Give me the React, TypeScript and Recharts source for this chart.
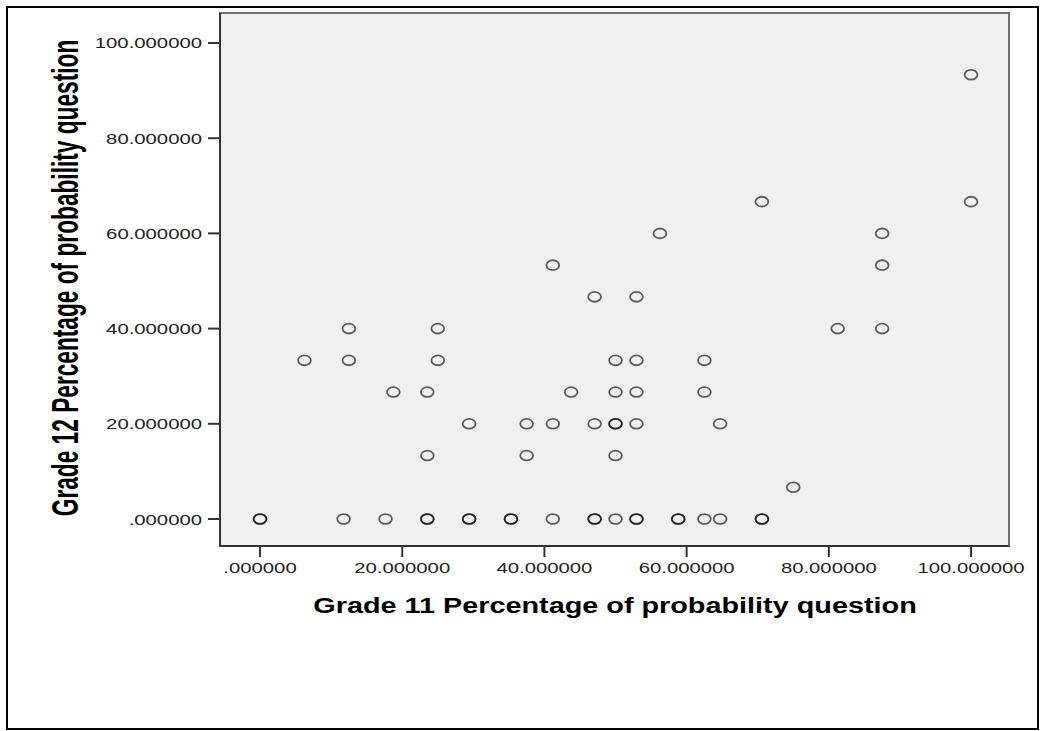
import React from 'react';
import { ScatterChart, Scatter, XAxis, YAxis, CartesianGrid, ReferenceArea } from 'recharts';

// Grade 11 vs Grade 12 percentage scores (one entry per student, repeats = overlapping dots)
const grade11 = [
  0, 0, 11.76, 17.65, 23.53, 23.53, 29.41, 29.41, 35.29, 35.29, 41.18,
  47.06, 47.06, 50, 52.94, 52.94, 58.82, 58.82, 62.5, 64.71, 70.59, 70.59,
  75,
  23.53, 37.5, 50,
  29.41, 37.5, 41.18, 47.06, 50, 50, 52.94, 64.71,
  18.75, 23.53, 43.75, 50, 52.94, 62.5,
  6.25, 12.5, 25, 50, 52.94, 62.5,
  12.5, 25, 81.25, 87.5,
  47.06, 52.94,
  41.18, 87.5,
  56.25, 87.5,
  70.59, 100,
  100,
];
const grade12 = [
  0, 0, 0, 0, 0, 0, 0, 0, 0, 0, 0,
  0, 0, 0, 0, 0, 0, 0, 0, 0, 0, 0,
  6.67,
  13.33, 13.33, 13.33,
  20, 20, 20, 20, 20, 20, 20, 20,
  26.67, 26.67, 26.67, 26.67, 26.67, 26.67,
  33.33, 33.33, 33.33, 33.33, 33.33, 33.33,
  40, 40, 40, 40,
  46.67, 46.67,
  53.33, 53.33,
  60, 60,
  66.67, 66.67,
  93.33,
];
const xTicks = [0, 20, 40, 60, 80, 100];
const yTicks = [0, 20, 40, 60, 80, 100];

const xTitle = 'Grade 11 Percentage of probability question';
const yTitle = 'Grade 12 Percentage of probability question';

const points = grade11.map((x, i) => ({ x, y: grade12[i] }));

const FONT = '"Liberation Sans", Arial, sans-serif';
const STRETCH = 1.31; // source picture is stretched horizontally

const fmt = (v: number) => (v === 0 ? '.000000' : v.toFixed(6));

const XTick = (props: any) => {
  const { x, y, payload } = props;
  return (
    <text
      transform={`translate(${x}, ${y + 11}) scale(${STRETCH}, 1)`}
      textAnchor="middle"
      fontSize={15.5}
      fontFamily={FONT}
      fill="#222"
    >
      {fmt(payload.value)}
    </text>
  );
};

const YTick = (props: any) => {
  const { x, y, payload } = props;
  return (
    <text
      transform={`translate(${x}, ${y + 5.5}) scale(${STRETCH}, 1)`}
      textAnchor="end"
      fontSize={15.5}
      fontFamily={FONT}
      fill="#222"
    >
      {fmt(payload.value)}
    </text>
  );
};

const XTitle = () => (
  <text
    transform={`translate(615, 613) scale(${STRETCH}, 1)`}
    textAnchor="middle"
    fontSize={22}
    fontWeight="bold"
    fontFamily={FONT}
    fill="#000"
  >
    {xTitle}
  </text>
);

// rotated title looks wider in the source, so it gets a bigger horizontal scale
const YTitle = () => (
  <text
    transform="translate(78, 278) scale(1.6, 1) rotate(-90)"
    textAnchor="middle"
    fontSize={22.7}
    fontWeight="bold"
    fontFamily={FONT}
    fill="#000"
  >
    {yTitle}
  </text>
);

const Dot = (props: any) => (
  <ellipse
    cx={props.cx}
    cy={props.cy}
    rx={6.4}
    ry={4.9}
    fill="none"
    stroke="#000"
    strokeOpacity={0.62}
    strokeWidth={1.8}
  />
);

const X_DOMAIN: [number, number] = [-5.63, 105.34];
const Y_DOMAIN: [number, number] = [-5.67, 106.3];

export default function App() {
  return (
    <div style={{ position: 'absolute', left: 0, top: 0, width: 1040, height: 731, background: '#fff' }}>
      <ScatterChart
        width={1040}
        height={731}
        margin={{ top: 13, right: 31, left: 0, bottom: 0 }}
      >
        <CartesianGrid horizontal={false} vertical={false} fill="#f0f0f0" />
        <ReferenceArea
          x1={X_DOMAIN[0]}
          x2={X_DOMAIN[1]}
          y1={Y_DOMAIN[0]}
          y2={Y_DOMAIN[1]}
          fill="none"
          stroke="#707070"
          strokeWidth={2}
        />
        <XAxis
          type="number"
          dataKey="x"
          domain={X_DOMAIN}
          ticks={xTicks}
          allowDataOverflow
          height={185}
          tickSize={11}
          tickMargin={5}
          axisLine={{ stroke: '#333', strokeWidth: 2 }}
          tickLine={{ stroke: '#333', strokeWidth: 2 }}
          tick={XTick}
          label={<XTitle />}
        />
        <YAxis
          type="number"
          dataKey="y"
          domain={Y_DOMAIN}
          ticks={yTicks}
          allowDataOverflow
          width={220}
          tickSize={12}
          tickMargin={6}
          axisLine={{ stroke: '#333', strokeWidth: 2 }}
          tickLine={{ stroke: '#333', strokeWidth: 2 }}
          tick={YTick}
          label={<YTitle />}
        />
        <Scatter data={points} shape={Dot} isAnimationActive={false} />
      </ScatterChart>
      <div
        style={{
          position: 'absolute',
          left: 6,
          top: 6,
          width: 1029,
          height: 720,
          border: '2px solid #000',
          pointerEvents: 'none',
        }}
      />
    </div>
  );
}
